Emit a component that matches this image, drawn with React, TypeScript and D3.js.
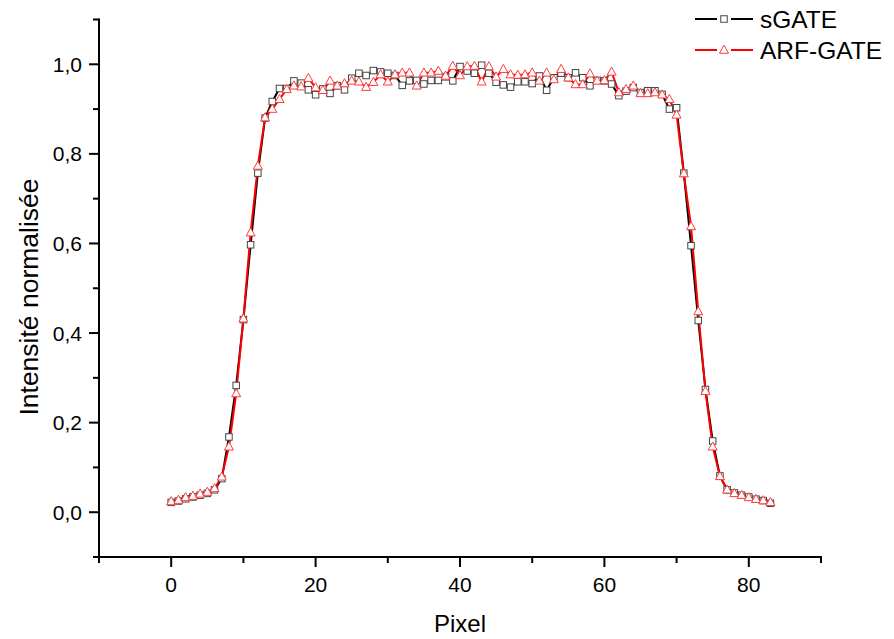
import React from "react";
import * as d3 from "d3";

const pixels: number[] = d3.range(0, 84);

const sGATE: number[] = [
  0.022, 0.025, 0.030, 0.034, 0.038, 0.042, 0.050, 0.075, 0.168, 0.283,
  0.430, 0.597, 0.757, 0.880, 0.917, 0.946, 0.946, 0.963, 0.958, 0.943,
  0.932, 0.945, 0.935, 0.952, 0.943, 0.969, 0.980, 0.975, 0.986, 0.983,
  0.980, 0.975, 0.953, 0.963, 0.964, 0.956, 0.964, 0.964, 0.972, 0.963,
  0.995, 0.985, 0.980, 0.998, 0.980, 0.960, 0.954, 0.949, 0.961, 0.961,
  0.957, 0.974, 0.942, 0.970, 0.980, 0.970, 0.981, 0.970, 0.952, 0.964,
  0.963, 0.956, 0.930, 0.940, 0.948, 0.937, 0.941, 0.941, 0.933, 0.900,
  0.903, 0.757, 0.595, 0.428, 0.274, 0.159, 0.081, 0.050, 0.043, 0.038,
  0.034, 0.029, 0.026, 0.020,
];

const arfGATE: number[] = [
  0.024, 0.027, 0.033, 0.036, 0.041, 0.045, 0.053, 0.079, 0.146, 0.265,
  0.432, 0.624, 0.773, 0.881, 0.900, 0.922, 0.944, 0.952, 0.950, 0.969,
  0.948, 0.942, 0.963, 0.952, 0.957, 0.963, 0.961, 0.949, 0.960, 0.977,
  0.961, 0.977, 0.981, 0.981, 0.952, 0.981, 0.981, 0.985, 0.974, 0.996,
  0.975, 0.995, 0.996, 0.961, 0.995, 0.972, 0.989, 0.977, 0.976, 0.977,
  0.981, 0.963, 0.981, 0.966, 0.989, 0.970, 0.955, 0.955, 0.979, 0.963,
  0.964, 0.983, 0.937, 0.944, 0.952, 0.935, 0.935, 0.937, 0.932, 0.922,
  0.887, 0.756, 0.638, 0.448, 0.270, 0.146, 0.080, 0.050, 0.042, 0.038,
  0.033, 0.029, 0.026, 0.022,
];

const xMajorTicks: number[] = [0, 20, 40, 60, 80];
const xMinorTicks: number[] = [-10, 10, 30, 50, 70, 90];
const yMajorTicks: number[] = [0, 0.2, 0.4, 0.6, 0.8, 1.0];
const yMinorTicks: number[] = [-0.1, 0.1, 0.3, 0.5, 0.7, 0.9, 1.1];

const seriesNames = ["sGATE", "ARF-GATE"];

const FONT = "'Liberation Sans', Arial, Helvetica, sans-serif";

export default function App() {
  const W = 894;
  const H = 639;
  const x = d3.scaleLinear().domain([-10, 90]).range([99, 821]);
  const y = d3.scaleLinear().domain([-0.1, 1.1]).range([557, 19.5]);

  const line = d3
    .line<number>()
    .x((_, i) => x(pixels[i]))
    .y((d) => y(d));

  const fmt = (v: number) => v.toFixed(1).replace(".", ",");
  const sq = 6.5;
  const tri = (cx: number, cy: number, s: number) => {
    const h = s * 0.9;
    return `M${cx},${cy - h * 0.6}L${cx + s / 2},${cy + h * 0.4}L${cx - s / 2},${cy + h * 0.4}Z`;
  };

  const axisY0 = y(-0.1);
  const axisX0 = x(-10);

  return (
    <svg
      width={W}
      height={H}
      style={{ position: "absolute", left: 0, top: 0, display: "block", background: "#fff" }}
      fontFamily={FONT}
    >
      <rect x={0} y={0} width={W} height={H} fill="#fff" />

      {/* sGATE */}
      <path d={line(sGATE) || ""} fill="none" stroke="#000" strokeWidth={2} strokeLinejoin="round" />
      {/* ARF-GATE line */}
      <path d={line(arfGATE) || ""} fill="none" stroke="#ff0000" strokeWidth={2} strokeLinejoin="round" />
      {sGATE.map((v, i) => (
        <rect
          key={"s" + i}
          x={x(pixels[i]) - sq / 2}
          y={y(v) - sq / 2}
          width={sq}
          height={sq}
          fill="#fff"
          stroke="#444"
          strokeWidth={1}
        />
      ))}
      {arfGATE.map((v, i) => (
        <path key={"a" + i} d={tri(x(pixels[i]), y(v), 9)} fill="#fff" stroke="#ff3b3b" strokeWidth={1} />
      ))}

      {/* axes */}
      <line x1={axisX0} x2={x(90)} y1={axisY0} y2={axisY0} stroke="#000" strokeWidth={2} strokeLinecap="square" />
      <line x1={axisX0} x2={axisX0} y1={axisY0} y2={y(1.1)} stroke="#000" strokeWidth={2} strokeLinecap="square" />

      {xMajorTicks.map((t) => (
        <g key={"xm" + t}>
          <line x1={x(t)} x2={x(t)} y1={axisY0} y2={axisY0 + 10} stroke="#000" strokeWidth={2} />
          <text x={x(t)} y={592} fontSize={21} textAnchor="middle" fill="#000">
            {t}
          </text>
        </g>
      ))}
      {xMinorTicks.map((t) => (
        <line key={"xn" + t} x1={x(t)} x2={x(t)} y1={axisY0} y2={axisY0 + 6} stroke="#000" strokeWidth={2} />
      ))}
      {yMajorTicks.map((t) => (
        <g key={"ym" + t}>
          <line x1={axisX0 - 10} x2={axisX0} y1={y(t)} y2={y(t)} stroke="#000" strokeWidth={2} />
          <text x={82} y={y(t) + 7.5} fontSize={21} textAnchor="end" fill="#000">
            {fmt(t)}
          </text>
        </g>
      ))}
      {yMinorTicks.map((t) => (
        <line key={"yn" + t} x1={axisX0 - 6} x2={axisX0} y1={y(t)} y2={y(t)} stroke="#000" strokeWidth={2} />
      ))}

      <text x={460} y={632} fontSize={24} textAnchor="middle" fill="#000">
        Pixel
      </text>
      <text
        transform={`translate(38,297) rotate(-90)`}
        fontSize={26.5}
        textAnchor="middle"
        fill="#000"
      >
        Intensité normalisée
      </text>

      {/* legend */}
      <g>
        <line x1={695} x2={717} y1={19} y2={19} stroke="#000" strokeWidth={2} />
        <line x1={731} x2={753} y1={19} y2={19} stroke="#000" strokeWidth={2} />
        <rect x={724 - sq / 2} y={19 - sq / 2} width={sq} height={sq} fill="#fff" stroke="#444" strokeWidth={1} />
        <text x={760} y={28} fontSize={24.5} fill="#000">
          {seriesNames[0]}
        </text>
        <line x1={695} x2={717} y1={50} y2={50} stroke="#ff0000" strokeWidth={2} />
        <line x1={731} x2={753} y1={50} y2={50} stroke="#ff0000" strokeWidth={2} />
        <path d={tri(724, 50, 9)} fill="#fff" stroke="#ff3b3b" strokeWidth={1} />
        <text x={760} y={59} fontSize={24.5} fill="#000">
          {seriesNames[1]}
        </text>
      </g>
    </svg>
  );
}
